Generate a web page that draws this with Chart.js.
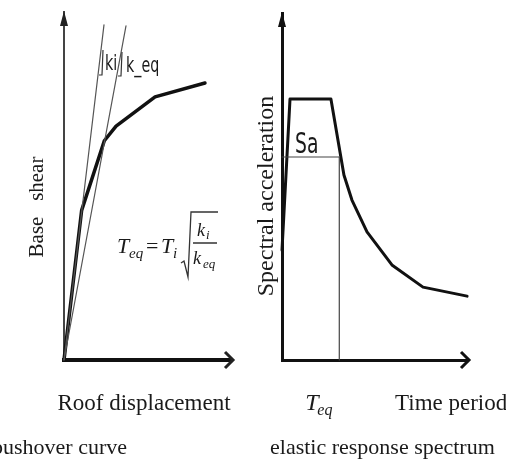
<!DOCTYPE html>
<html>
<head>
<meta charset="utf-8">
<script src="https://cdn.jsdelivr.net/npm/chart.js@4.4.1/dist/chart.umd.min.js"></script>
<style>
  html, body { margin: 0; padding: 0; background: #fff; }
  #wrap { position: relative; width: 506px; height: 459px; overflow: hidden; }
  canvas { position: absolute; top: 0; }
  #pushover { left: 0; }
  #spectrum { left: 253px; }
</style>
</head>
<body>
<div id="wrap">
  <canvas id="pushover" width="253" height="459"></canvas>
  <canvas id="spectrum" width="253" height="459"></canvas>
</div>
<script>
// pushover curve, schematic units (both axes 0..10)
const pushDisp  = [0, 1.05, 2.4, 3.1, 5.42, 8.39];
const pushShear = [0, 4.3, 6.3, 6.72, 7.56, 7.96];

// initial (ki) and equivalent (keq) stiffness lines
const kiDisp   = [0, 2.38];
const kiShear  = [0, 9.63];
const keqDisp  = [0, 3.69];
const keqShear = [0, 9.6];

// elastic response spectrum
const period = [0, 0.43, 2.63, 3.33, 3.76, 4.57, 5.91, 7.58, 9.95];
const accel  = [3.17, 7.52, 7.52, 5.33, 4.61, 3.69, 2.74, 2.1, 1.84];
const tEq  = 3.08;
const saEq = 5.85;

const axisMax = 10;

const SERIF = '"Liberation Serif", "Times New Roman", serif';
const HAND = '"DejaVu Sans Condensed", "DejaVu Sans", sans-serif';

function pts(xs, ys) {
  return xs.map((x, i) => ({ x: x, y: ys[i] }));
}

function lineSet(data, width, color) {
  return {
    data: data,
    showLine: true,
    borderColor: color,
    borderWidth: width,
    pointRadius: 0,
    tension: 0,
    borderJoinStyle: 'round',
    borderCapStyle: 'round',
    clip: false
  };
}

function baseOptions(pad, xBorder, yBorder) {
  return {
    responsive: false,
    animation: false,
    events: [],
    layout: { padding: pad },
    plugins: { legend: { display: false }, tooltip: { enabled: false } },
    scales: {
      x: {
        type: 'linear', min: 0, max: axisMax,
        ticks: { display: false },
        grid: { display: false },
        border: xBorder,
        afterFit: function(s) { s.height = 0; }
      },
      y: {
        type: 'linear', min: 0, max: axisMax,
        ticks: { display: false },
        grid: { display: false },
        border: yBorder,
        afterFit: function(s) { s.width = 0; }
      }
    }
  };
}

// arrow heads on the ends of the axes
function drawArrows(ctx, area, color) {
  ctx.save();
  ctx.fillStyle = color;
  ctx.strokeStyle = color;
  // up
  ctx.beginPath();
  ctx.moveTo(area.left, area.top - 1);
  ctx.lineTo(area.left - 4, area.top + 14);
  ctx.lineTo(area.left + 4, area.top + 14);
  ctx.closePath();
  ctx.fill();
  // right
  ctx.lineWidth = 3;
  ctx.lineJoin = 'miter';
  ctx.beginPath();
  ctx.moveTo(area.right - 7, area.bottom - 8);
  ctx.lineTo(area.right + 1, area.bottom);
  ctx.lineTo(area.right - 7, area.bottom + 8);
  ctx.stroke();
  ctx.restore();
}

function rotatedText(ctx, text, x, y, font) {
  ctx.save();
  ctx.translate(x, y);
  ctx.rotate(-Math.PI / 2);
  ctx.font = font;
  ctx.textAlign = 'center';
  ctx.textBaseline = 'alphabetic';
  ctx.fillText(text, 0, 0);
  ctx.restore();
}

function handText(ctx, text, x, y, size) {
  ctx.save();
  ctx.translate(x, y);
  ctx.scale(0.72, 1);
  ctx.font = size + 'px ' + HAND;
  ctx.textAlign = 'left';
  ctx.textBaseline = 'alphabetic';
  ctx.fillText(text, 0, 0);
  ctx.restore();
}

const pushoverDecor = {
  id: 'pushoverDecor',
  afterDraw: function(chart) {
    const ctx = chart.ctx;
    const area = chart.chartArea;
    drawArrows(ctx, area, '#222');
    ctx.save();
    ctx.fillStyle = '#1a1a1a';
    ctx.strokeStyle = '#333';

    rotatedText(ctx, 'Base   shear', 43, 207, '21px ' + SERIF);

    ctx.font = '23px ' + SERIF;
    ctx.textAlign = 'center';
    ctx.textBaseline = 'alphabetic';
    ctx.fillText('Roof displacement', 144, 410);

    ctx.font = '22px ' + SERIF;
    ctx.textAlign = 'right';
    ctx.fillText('pushover curve', 127, 454);

    // stiffness labels
    ctx.lineWidth = 1.2;
    ctx.beginPath();
    ctx.moveTo(103, 50); ctx.lineTo(102, 75); ctx.lineTo(99, 75);
    ctx.moveTo(122, 52); ctx.lineTo(121, 76); ctx.lineTo(118, 76);
    ctx.stroke();
    handText(ctx, 'ki', 105, 70, 22);
    handText(ctx, 'k_eq', 126, 72, 22);

    // T_eq = T_i sqrt(k_i / k_eq)
    ctx.textAlign = 'left';
    ctx.font = 'italic 22px ' + SERIF;
    ctx.fillText('T', 117, 253);
    ctx.font = 'italic 15px ' + SERIF;
    ctx.fillText('eq', 129, 258);
    ctx.font = '22px ' + SERIF;
    ctx.fillText('=', 146, 253);
    ctx.font = 'italic 22px ' + SERIF;
    ctx.fillText('T', 161, 253);
    ctx.font = 'italic 15px ' + SERIF;
    ctx.fillText('i', 173, 258);

    ctx.lineWidth = 1.3;
    ctx.beginPath();
    ctx.moveTo(181, 263);
    ctx.lineTo(184, 261);
    ctx.lineTo(188, 277);
    ctx.lineTo(191, 212);
    ctx.lineTo(218, 212);
    ctx.moveTo(193, 243);
    ctx.lineTo(217, 243);
    ctx.stroke();

    ctx.font = 'italic 18px ' + SERIF;
    ctx.fillText('k', 197, 236);
    ctx.fillText('k', 193, 264);
    ctx.font = 'italic 13px ' + SERIF;
    ctx.fillText('i', 206, 239);
    ctx.fillText('eq', 203, 268);
    ctx.restore();
  }
};

const spectrumDecor = {
  id: 'spectrumDecor',
  afterDraw: function(chart) {
    const ctx = chart.ctx;
    const area = chart.chartArea;
    const xs = chart.scales.x;
    drawArrows(ctx, area, '#111');
    ctx.save();
    ctx.fillStyle = '#1a1a1a';

    rotatedText(ctx, 'Spectral acceleration', 20, 196, '24px ' + SERIF);

    ctx.textBaseline = 'alphabetic';
    ctx.textAlign = 'left';
    ctx.font = '23px ' + SERIF;
    ctx.fillText('Time period', 142, 410);

    const tx = xs.getPixelForValue(tEq) - 34;
    ctx.font = 'italic 24px ' + SERIF;
    ctx.fillText('T', tx, 410);
    ctx.font = 'italic 16px ' + SERIF;
    ctx.fillText('eq', tx + 12, 415);

    ctx.font = '22px ' + SERIF;
    ctx.fillText('elastic response spectrum', 17, 454);

    handText(ctx, 'Sa', 42, 153, 29);
    ctx.restore();
  }
};

new Chart(document.getElementById('pushover'), {
  type: 'scatter',
  data: {
    datasets: [
      lineSet(pts(kiDisp, kiShear), 1.2, '#555'),
      lineSet(pts(keqDisp, keqShear), 1.2, '#555'),
      lineSet(pts(pushDisp, pushShear), 3.5, '#111')
    ]
  },
  options: baseOptions(
    { left: 64, right: 21, top: 12, bottom: 99 },
    { display: true, color: '#111', width: 4 },
    { display: true, color: '#444', width: 2 }
  ),
  plugins: [pushoverDecor]
});

new Chart(document.getElementById('spectrum'), {
  type: 'scatter',
  data: {
    datasets: [
      lineSet(pts([0, tEq], [saEq, saEq]), 1.2, '#444'),
      lineSet(pts([tEq, tEq], [0, saEq]), 1.2, '#444'),
      lineSet(pts(period, accel), 3, '#111')
    ]
  },
  options: baseOptions(
    { left: 29, right: 38, top: 13, bottom: 99 },
    { display: true, color: '#111', width: 3 },
    { display: true, color: '#111', width: 3 }
  ),
  plugins: [spectrumDecor]
});
</script>
</body>
</html>
